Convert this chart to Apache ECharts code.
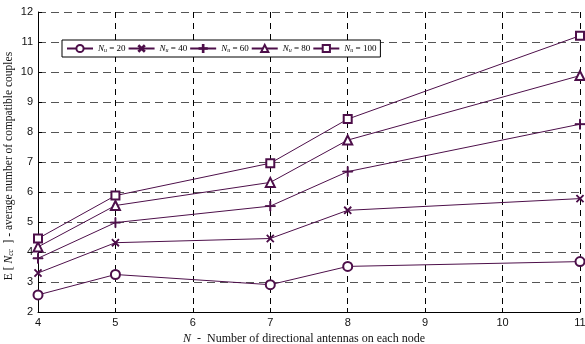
<!DOCTYPE html>
<html><head><meta charset="utf-8">
<script src="https://cdn.jsdelivr.net/npm/echarts@6/dist/echarts.min.js"></script>
<style>html,body{margin:0;padding:0;background:#fff}#c{width:585px;height:344px}</style>
</head><body><div id="c"></div>
<script>
const xValues = [4, 5, 7, 8, 11];
const seriesNames = ['20', '40', '60', '80', '100'];
const nu20 = [2.57, 3.25, 2.91, 3.52, 3.68];
const nu40 = [3.3, 4.31, 4.45, 5.39, 5.78];
const nu60 = [3.79, 4.98, 5.53, 6.68, 8.26];
const nu80 = [4.17, 5.55, 6.32, 7.73, 9.88];
const nu100 = [4.45, 5.88, 6.96, 8.43, 11.21];
const allValues = [nu20, nu40, nu60, nu80, nu100];
const yTitle = '{t|E [ }{i|N}{s|cc}{t|  ] - average number of compatible couples}';
const xTitle = '{i|N}{t|  -  Number of directional antennas on each node}';

const col = '#4d0f4a';
const plusPath = 'path://M4.55,0H5.45V4.55H10V5.45H5.45V10H4.55V5.45H0V4.55H4.55Z';
const symbols = ['emptyCircle', plusPath, plusPath, 'emptyTriangle', 'emptyRect'];
const rotations = [0, 45, 0, 0, 0];
const sizes = [9, 9, 10, 9, 8];

const chart = echarts.init(document.getElementById('c'));
const series = allValues.map((vals, i) => ({
  name: seriesNames[i],
  type: 'line',
  data: xValues.map((x, j) => [x, vals[j]]),
  symbol: symbols[i],
  symbolRotate: rotations[i],
  symbolSize: sizes[i],
  showAllSymbol: true,
  lineStyle: { color: col, width: 1 },
  itemStyle: { color: col, borderColor: col, borderWidth: 1 },
  animation: false
}));

chart.setOption({
  animation: false,
  grid: { left: 38, right: 5, top: 12, bottom: 32, containLabel: false, outerBoundsMode: 'none' },
  graphic: [{
    type: 'text',
    x: 9, y: 166,
    rotation: Math.PI / 2,
    style: {
      text: yTitle,
      align: 'center', verticalAlign: 'middle',
      fontFamily: 'Liberation Serif', fontSize: 11.5, fill: '#111',
      rich: {
        i: { fontFamily: 'Liberation Serif', fontStyle: 'italic', fontSize: 11.5, fill: '#111' },
        s: { fontFamily: 'Liberation Serif', fontStyle: 'italic', fontSize: 7.5, fill: '#111', verticalAlign: 'bottom', padding: [5, 0, 0, 0] },
        t: { fontFamily: 'Liberation Serif', fontSize: 11.5, fill: '#111' }
      }
    }
  }],
  legend: {
    left: 62, top: 40,
    orient: 'horizontal',
    itemWidth: 26, itemHeight: 9, itemGap: 2,
    padding: [2, 4],
    borderColor: '#000', borderWidth: 1, backgroundColor: '#fff',
    data: seriesNames,
    formatter: n => '{n|N}{s|u}{t| = ' + n + '}',
    textStyle: {
      fontFamily: 'Liberation Serif', fontSize: 9, color: '#000',
      rich: {
        n: { fontFamily: 'Liberation Serif', fontStyle: 'italic', fontSize: 9, color: '#000' },
        s: { fontFamily: 'Liberation Serif', fontStyle: 'italic', fontSize: 6, color: '#000', verticalAlign: 'bottom', padding: [4, 0, 0, 0] },
        t: { fontFamily: 'Liberation Serif', fontSize: 9, color: '#000' }
      }
    }
  },
  xAxis: {
    type: 'value', min: 4, max: 11, interval: 1,
    axisLine: { lineStyle: { color: '#000', width: 1 } },
    axisTick: { inside: true, length: 4, lineStyle: { color: '#000' } },
    axisLabel: { fontFamily: 'Liberation Sans', fontSize: 11, color: '#111', margin: 5 },
    splitLine: { show: true, lineStyle: { color: '#000', type: [6, 5], width: 1 } },
    name: xTitle,
    nameLocation: 'middle', nameGap: 19,
    nameTextStyle: {
      fontFamily: 'Liberation Serif', fontSize: 12, color: '#111',
      padding: [0, 10, 0, 0],
      rich: {
        i: { fontFamily: 'Liberation Serif', fontStyle: 'italic', fontSize: 12, color: '#111' },
        t: { fontFamily: 'Liberation Serif', fontSize: 12, color: '#111' }
      }
    }
  },
  yAxis: {
    type: 'value', min: 2, max: 12, interval: 1,
    axisLine: { show: true, lineStyle: { color: '#000', width: 1 } },
    axisTick: { show: true, inside: true, length: 4, lineStyle: { color: '#000' } },
    axisLabel: { fontFamily: 'Liberation Sans', fontSize: 11, color: '#111', margin: 5 },
    splitLine: { show: true, lineStyle: { color: '#555', type: [8, 5], width: 1 } }
  },
  series: series
});
</script>
</body></html>
